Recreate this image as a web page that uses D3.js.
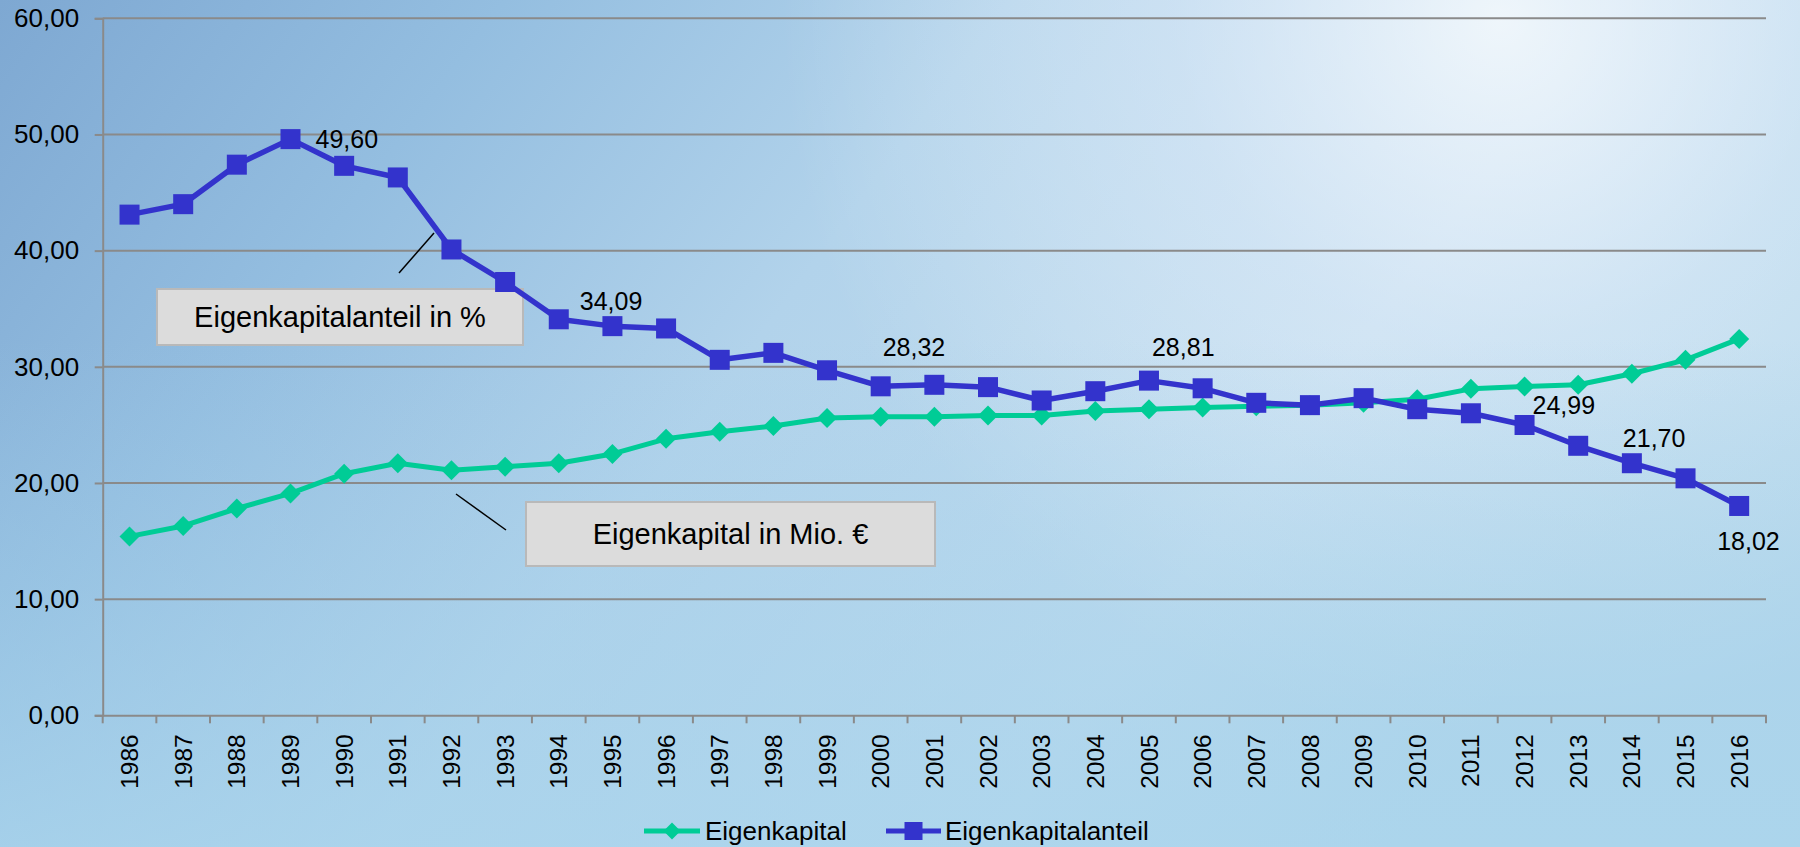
<!DOCTYPE html>
<html>
<head>
<meta charset="utf-8">
<script src="https://cdn.jsdelivr.net/npm/d3@7"></script>
<style>
  html, body { margin: 0; padding: 0; }
  body { width: 1800px; height: 847px; overflow: hidden; }
  svg { display: block; font-family: "Liberation Sans", Arial, sans-serif; }
</style>
</head>
<body>
<div class="chart"></div>
<script>
const years = ['1986', '1987', '1988', '1989', '1990', '1991', '1992', '1993', '1994', '1995',
  '1996', '1997', '1998', '1999', '2000', '2001', '2002', '2003', '2004', '2005', '2006',
  '2007', '2008', '2009', '2010', '2011', '2012', '2013', '2014', '2015', '2016'];

const eigenkapital = [15.4, 16.3, 17.8, 19.1, 20.8, 21.7, 21.1, 21.4, 21.7, 22.5,
  23.8, 24.4, 24.9, 25.6, 25.7, 25.7, 25.8, 25.8, 26.2, 26.35, 26.5,
  26.6, 26.7, 26.9, 27.2, 28.1, 28.3, 28.45, 29.4, 30.6, 32.4];

const eigenkapitalanteil = [43.1, 44.0, 47.4, 49.6, 47.3, 46.3, 40.1, 37.3, 34.09, 33.5,
  33.3, 30.6, 31.2, 29.7, 28.32, 28.45, 28.25, 27.1, 27.9, 28.81, 28.15,
  26.9, 26.7, 27.3, 26.35, 26.0, 24.99, 23.2, 21.7, 20.4, 18.02];

const yTicks = [0, 10, 20, 30, 40, 50, 60];
const labelledYears = ['1989', '1994', '2000', '2005', '2012', '2014', '2016'];
const seriesNames = ['Eigenkapital', 'Eigenkapitalanteil'];
const calloutTexts = ['Eigenkapitalanteil in %', 'Eigenkapital in Mio. \u20ac'];

// label placement relative to its point (start x, baseline y)
const labelOffset = {
  '1989': [25, 9], '1994': [21, -9], '2000': [2, -30], '2005': [3, -25],
  '2012': [8, -11], '2014': [-9, -16], '2016': [-22, 44]
};

const width = 1800, height = 847;
const margin = { top: 18.3, right: 34, bottom: 131.7, left: 102.7 };
const blue = '#3333cc', green = '#00cc96';

const de = d3.formatLocale({ decimal: ',', thousands: '.', grouping: [3], currency: ['', '\u20ac'] });
const fmt = de.format('.2f');

const svg = d3.select('.chart').append('svg').attr('width', width).attr('height', height);

// sky background
const defs = svg.append('defs');
const base = defs.append('linearGradient').attr('id', 'sky').attr('x1', 0).attr('y1', 0).attr('x2', 1).attr('y2', 0.35);
[['0%', '#7ea8d2'], ['25%', '#94bee0'], ['50%', '#b2d3eb'], ['80%', '#c0dcef'], ['100%', '#b6d8ec']]
  .forEach(s => base.append('stop').attr('offset', s[0]).attr('stop-color', s[1]));
const glow = defs.append('radialGradient').attr('id', 'glow').attr('gradientUnits', 'userSpaceOnUse')
  .attr('cx', 1500).attr('cy', 20).attr('r', 720);
glow.append('stop').attr('offset', '0%').attr('stop-color', '#ffffff').attr('stop-opacity', 0.75);
glow.append('stop').attr('offset', '45%').attr('stop-color', '#f4f6ff').attr('stop-opacity', 0.35);
glow.append('stop').attr('offset', '100%').attr('stop-color', '#ffffff').attr('stop-opacity', 0);
const low = defs.append('linearGradient').attr('id', 'low').attr('x1', 0).attr('y1', 0).attr('x2', 0).attr('y2', 1);
low.append('stop').attr('offset', '40%').attr('stop-color', '#9ccbe7').attr('stop-opacity', 0);
low.append('stop').attr('offset', '100%').attr('stop-color', '#a8d4ec').attr('stop-opacity', 0.75);

svg.append('rect').attr('width', width).attr('height', height).attr('fill', 'url(#sky)');
svg.append('rect').attr('width', width).attr('height', height).attr('fill', 'url(#glow)');
svg.append('rect').attr('width', width).attr('height', height).attr('fill', 'url(#low)');

const x = d3.scaleBand().domain(years).range([margin.left, width - margin.right]);
const y = d3.scaleLinear().domain([0, 60]).range([height - margin.bottom, margin.top]);
const cx = d => x(d) + x.bandwidth() / 2;

// gridlines
svg.append('g')
  .selectAll('line')
  .data(yTicks.slice(1))
  .enter()
  .append('line')
  .attr('x1', margin.left)
  .attr('x2', width - margin.right)
  .attr('y1', d => y(d))
  .attr('y2', d => y(d))
  .attr('stroke', '#8a8a8a')
  .attr('stroke-width', 2);

// y axis
let yAxis = svg.append('g')
  .attr('transform', `translate(${margin.left},0)`)
  .call(d3.axisLeft(y).tickValues(yTicks).tickSize(8).tickPadding(15.5).tickFormat(fmt));
yAxis.select('.domain').attr('stroke', '#8a8a8a').attr('stroke-width', 2);
yAxis.selectAll('.tick line').attr('stroke', '#8a8a8a').attr('stroke-width', 2);
yAxis.selectAll('.tick text').attr('font-size', 26).attr('fill', '#000')
  .attr('font-family', '"Liberation Sans", Arial, sans-serif');

// x axis
let xAxis = svg.append('g')
  .attr('transform', `translate(0,${y(0)})`)
  .call(d3.axisBottom(x).tickSize(0));
xAxis.select('.domain').attr('stroke', '#8a8a8a').attr('stroke-width', 2);
xAxis.selectAll('.tick text')
  .attr('font-size', 24.5)
  .attr('fill', '#000')
  .attr('font-family', '"Liberation Sans", Arial, sans-serif')
  .attr('transform', 'rotate(-90)')
  .attr('text-anchor', 'end')
  .attr('x', -19)
  .attr('y', 0)
  .attr('dy', '.35em');
xAxis.append('g')
  .selectAll('line')
  .data(years.map(d => x(d)).concat([width - margin.right]))
  .enter()
  .append('line')
  .attr('x1', d => d)
  .attr('x2', d => d)
  .attr('y1', 0)
  .attr('y2', 8)
  .attr('stroke', '#8a8a8a')
  .attr('stroke-width', 2);

// callouts
const callouts = [
  { text: calloutTexts[0], box: [157, 289, 366, 56], lead: [399, 273, 434, 233] },
  { text: calloutTexts[1], box: [526, 502, 409, 64], lead: [506, 530, 456, 494] }
];
callouts.forEach(c => {
  svg.append('line')
    .attr('x1', c.lead[0]).attr('y1', c.lead[1]).attr('x2', c.lead[2]).attr('y2', c.lead[3])
    .attr('stroke', '#000').attr('stroke-width', 1.5);
  svg.append('rect')
    .attr('x', c.box[0]).attr('y', c.box[1]).attr('width', c.box[2]).attr('height', c.box[3])
    .attr('fill', '#dcdcdc').attr('stroke', '#b9b9b9').attr('stroke-width', 2);
  svg.append('text')
    .attr('x', c.box[0] + c.box[2] / 2)
    .attr('y', c.box[1] + c.box[3] / 2)
    .attr('dy', '.35em')
    .attr('text-anchor', 'middle')
    .attr('font-size', 29)
    .text(c.text);
});

const line = d3.line().x(d => cx(d[0])).y(d => y(d[1]));
const greenPts = years.map((d, i) => [d, eigenkapital[i]]);
const bluePts = years.map((d, i) => [d, eigenkapitalanteil[i]]);

const diamond = s => `M0,${-s}L${s},0L0,${s}L${-s},0Z`;

// Eigenkapital
svg.append('path').datum(greenPts).attr('d', line)
  .attr('fill', 'none').attr('stroke', green).attr('stroke-width', 5).attr('stroke-linejoin', 'round');
svg.append('g').selectAll('path').data(greenPts).enter().append('path')
  .attr('transform', d => `translate(${cx(d[0])},${y(d[1])})`)
  .attr('d', diamond(10))
  .attr('fill', green);

// Eigenkapitalanteil
svg.append('path').datum(bluePts).attr('d', line)
  .attr('fill', 'none').attr('stroke', blue).attr('stroke-width', 5.5).attr('stroke-linejoin', 'round');
svg.append('g').selectAll('rect').data(bluePts).enter().append('rect')
  .attr('x', d => cx(d[0]) - 10)
  .attr('y', d => y(d[1]) - 10)
  .attr('width', 20)
  .attr('height', 20)
  .attr('fill', blue);

// data labels
svg.append('g').selectAll('text').data(bluePts.filter(d => labelledYears.includes(d[0]))).enter()
  .append('text')
  .attr('x', d => cx(d[0]) + labelOffset[d[0]][0])
  .attr('y', d => y(d[1]) + labelOffset[d[0]][1])
  .attr('font-size', 25)
  .attr('fill', '#000')
  .text(d => fmt(d[1]));

// legend
let legend = svg.append('g').attr('transform', 'translate(644,831)');
let item = legend.append('g');
item.append('line').attr('x1', 0).attr('x2', 56).attr('stroke', green).attr('stroke-width', 5);
item.append('path').attr('transform', 'translate(28,0)').attr('d', diamond(8.5)).attr('fill', green);
item.append('text').attr('x', 61).attr('dy', '.35em').attr('font-size', 26).text(seriesNames[0]);
item = legend.append('g').attr('transform', 'translate(242,0)');
item.append('line').attr('x1', 0).attr('x2', 55).attr('stroke', blue).attr('stroke-width', 5);
item.append('rect').attr('x', 18.5).attr('y', -9).attr('width', 18).attr('height', 18).attr('fill', blue);
item.append('text').attr('x', 59).attr('dy', '.35em').attr('font-size', 26).text(seriesNames[1]);
</script>
</body>
</html>
